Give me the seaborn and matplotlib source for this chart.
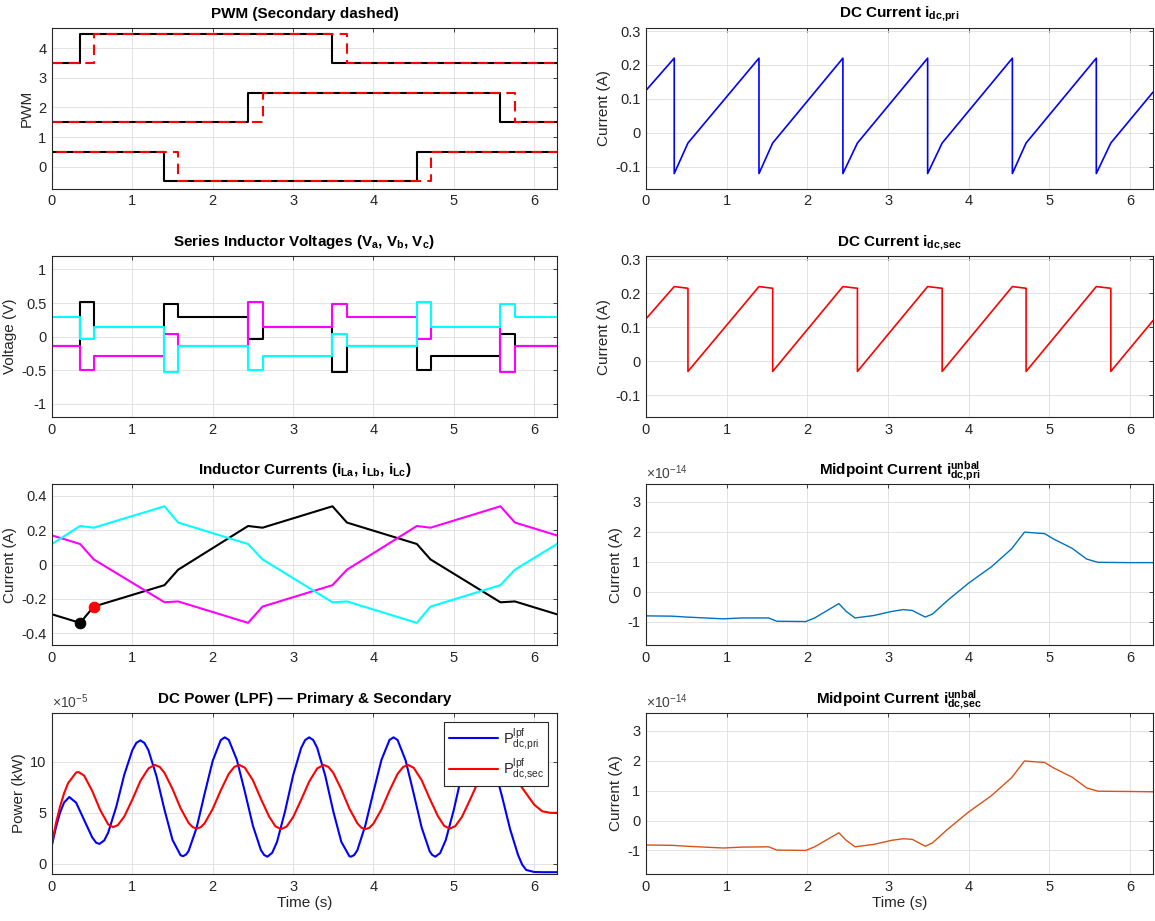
import numpy as np
import pandas as pd
import matplotlib
matplotlib.use("Agg")
import matplotlib.pyplot as plt
import matplotlib.ticker as mticker
import seaborn as sns

T_END = 6.283

# PWM switching instants (s) and levels (phase offsets 4 / 2 / 0)
pwm_a_pri_t = [0, 0.35, 3.49, T_END]
pwm_a_pri = [3.5, 4.5, 3.5, 3.5]
pwm_a_sec_t = [0, 0.52, 3.67, T_END]
pwm_a_sec = [3.5, 4.5, 3.5, 3.5]
pwm_b_pri_t = [0, 2.44, 5.58, T_END]
pwm_b_pri = [1.5, 2.5, 1.5, 1.5]
pwm_b_sec_t = [0, 2.62, 5.76, T_END]
pwm_b_sec = [1.5, 2.5, 1.5, 1.5]
pwm_c_pri_t = [0, 1.40, 4.54, T_END]
pwm_c_pri = [0.5, -0.5, 0.5, 0.5]
pwm_c_sec_t = [0, 0.006, 1.57, 4.71, T_END]
pwm_c_sec = [-0.5, 0.5, -0.5, 0.5, 0.5]

# series inductor voltages (step levels between switching instants)
v_t = [0, 0.004, 0.35, 0.52, 1.40, 1.57, 2.44, 2.62, 3.49, 3.67, 4.54, 4.71, 5.58, 5.76, T_END]
v_a = [0, -0.145, 0.51, 0.15, 0.48, 0.29, -0.04, 0.15, -0.52, -0.145, -0.49, -0.29, 0.04, -0.145, -0.145]
v_b = [0, -0.145, -0.49, -0.29, 0.04, -0.145, 0.51, 0.15, 0.48, 0.29, -0.04, 0.15, -0.52, -0.145, -0.145]
v_c = [0, 0.29, -0.04, 0.15, -0.52, -0.145, -0.49, -0.29, 0.04, -0.145, 0.52, 0.15, 0.48, 0.29, 0.29]

# inductor currents at the switching instants
i_t = [0, 0.35, 0.52, 1.40, 1.57, 2.44, 2.62, 3.49, 3.67, 4.54, 4.71, 5.58, 5.76, T_END]
i_la = [-0.29, -0.34, -0.245, -0.12, -0.03, 0.225, 0.215, 0.34, 0.245, 0.12, 0.03, -0.22, -0.215, -0.29]
i_lb = [0.17, 0.12, 0.03, -0.22, -0.215, -0.34, -0.245, -0.12, -0.03, 0.225, 0.215, 0.34, 0.245, 0.17]
i_lc = [0.12, 0.225, 0.215, 0.34, 0.245, 0.12, 0.03, -0.22, -0.215, -0.34, -0.245, -0.12, -0.03, 0.12]

# filtered DC power, in units of 1e-5 kW
p_pri_t = [0, 0.05, 0.1, 0.15, 0.215, 0.3, 0.4, 0.5, 0.55, 0.59, 0.65, 0.7, 0.8, 0.9, 1.0, 1.05,
           1.1, 1.15, 1.2, 1.3, 1.4, 1.5, 1.6, 1.63, 1.67, 1.7, 1.8, 1.9, 2.0, 2.1, 2.15, 2.2,
           2.3, 2.4, 2.5, 2.6, 2.64, 2.68, 2.74, 2.8, 2.9, 3.0, 3.1, 3.15, 3.2, 3.25, 3.3, 3.4,
           3.5, 3.6, 3.7, 3.72, 3.76, 3.8, 3.9, 4.0, 4.1, 4.2, 4.25, 4.3, 4.4, 4.5, 4.6, 4.7,
           4.73, 4.77, 4.83, 4.9, 5.0, 5.1, 5.2, 5.3, 5.4, 5.5, 5.6, 5.7, 5.8, 5.85, 5.9, 6.0,
           6.1, T_END]
p_pri = [1.85, 3.6, 5.0, 6.0, 6.55, 6.0, 4.3, 2.6, 2.07, 1.95, 2.29, 3.07, 5.6, 8.75, 11.14, 11.86,
         12.1, 11.85, 11.14, 8.6, 5.3, 2.34, 0.84, 0.75, 0.92, 1.26, 3.55, 6.9, 10.1, 12.13, 12.4, 12.15,
         10.2, 7.06, 3.74, 1.34, 0.87, 0.7, 1.08, 2.15, 5.15, 8.66, 11.35, 12.13, 12.4, 12.14, 11.37, 8.65,
         5.15, 2.16, 0.75, 0.7, 0.86, 1.34, 3.8, 7.07, 10.2, 12.15, 12.4, 12.14, 10.14, 6.9, 3.55, 1.22,
         0.88, 0.7, 1.06, 2.34, 5.3, 8.77, 11.38, 12.4, 11.65, 9.55, 6.6, 3.4, 0.85, -0.07, -0.6, -0.8,
         -0.82, -0.82]
p_sec_t = [0, 0.05, 0.1, 0.15, 0.2, 0.3, 0.33, 0.4, 0.5, 0.6, 0.7, 0.76, 0.82, 0.9, 1.0, 1.1,
           1.2, 1.28, 1.34, 1.4, 1.5, 1.6, 1.7, 1.75, 1.8, 1.85, 1.9, 2.0, 2.1, 2.2, 2.27, 2.33,
           2.4, 2.5, 2.6, 2.7, 2.78, 2.85, 2.92, 3.0, 3.1, 3.2, 3.3, 3.38, 3.44, 3.5, 3.6, 3.7,
           3.8, 3.85, 3.9, 3.95, 4.0, 4.1, 4.2, 4.3, 4.37, 4.43, 4.5, 4.6, 4.7, 4.8, 4.88, 4.95,
           5.02, 5.1, 5.2, 5.3, 5.4, 5.48, 5.6, 5.7, 5.8, 5.9, 6.0, 6.1, 6.2, T_END]
p_sec = [2.0, 4.0, 5.6, 6.9, 7.9, 8.95, 9.0, 8.65, 7.16, 5.27, 3.86, 3.6, 3.8, 4.64, 6.3, 8.12,
         9.35, 9.7, 9.5, 8.92, 7.33, 5.45, 4.01, 3.6, 3.45, 3.59, 3.98, 5.39, 7.2, 8.83, 9.51, 9.7,
         9.42, 8.19, 6.36, 4.66, 3.68, 3.4, 3.66, 4.57, 6.27, 8.06, 9.35, 9.7, 9.5, 8.92, 7.3, 5.42,
         3.97, 3.54, 3.4, 3.54, 3.94, 5.35, 7.18, 8.82, 9.5, 9.7, 9.42, 8.2, 6.39, 4.7, 3.72, 3.45,
         3.71, 4.59, 6.25, 8.0, 9.26, 9.6, 9.35, 8.8, 8.0, 6.9, 5.8, 5.15, 5.0, 5.0]

# DC link currents
idc_pri_t = [0, 0, 0.35, 0.35, 0.52, 1.40, 1.40, 1.57, 2.44, 2.44, 2.62, 3.49, 3.49, 3.67,
             4.54, 4.54, 4.71, 5.58, 5.58, 5.76, T_END]
idc_pri = [0, 0.125, 0.22, -0.12, -0.03, 0.22, -0.12, -0.03, 0.22, -0.12, -0.03, 0.22, -0.12, -0.03,
           0.22, -0.12, -0.03, 0.22, -0.12, -0.03, 0.12]
idc_sec_t = [0, 0, 0.35, 0.52, 0.52, 1.40, 1.57, 1.57, 2.44, 2.62, 2.62, 3.49, 3.67, 3.67,
             4.54, 4.71, 4.71, 5.58, 5.76, 5.76, T_END]
idc_sec = [0, 0.125, 0.22, 0.215, -0.03, 0.22, 0.215, -0.03, 0.22, 0.215, -0.03, 0.22, 0.215, -0.03,
           0.22, 0.215, -0.03, 0.22, 0.215, -0.03, 0.12]

# midpoint (unbalance) currents, in units of 1e-14 A
mid_t = [0, 0.32, 0.5, 0.96, 1.18, 1.52, 1.62, 1.98, 2.09, 2.39, 2.48, 2.59, 2.82, 3.05, 3.19,
         3.30, 3.46, 3.55, 3.73, 4.0, 4.28, 4.53, 4.69, 4.94, 5.05, 5.28, 5.46, 5.6, 6.0, T_END]
mid_pri = [-0.81, -0.82, -0.85, -0.91, -0.88, -0.88, -0.99, -1.0, -0.88, -0.40, -0.66, -0.88, -0.80,
           -0.66, -0.60, -0.63, -0.85, -0.75, -0.31, 0.29, 0.83, 1.43, 1.99, 1.94, 1.76, 1.45, 1.09,
           0.98, 0.97, 0.97]
mid_sec = [-0.82, -0.83, -0.86, -0.92, -0.89, -0.88, -0.99, -1.0, -0.88, -0.41, -0.66, -0.88, -0.80,
           -0.66, -0.61, -0.63, -0.86, -0.75, -0.31, 0.29, 0.83, 1.43, 1.99, 1.94, 1.76, 1.45, 1.09,
           0.98, 0.97, 0.96]

sns.set_theme(style="white")
plt.rcParams["font.family"] = ["Liberation Sans", "DejaVu Sans"]
plt.rcParams["mathtext.default"] = "regular"
plt.rcParams["axes.unicode_minus"] = False

EDGE = "#262626"


def style_axes(ax, ylim, yticks, title, ylabel, xlabel=None, offset=None):
    ax.set_xlim(0, T_END)
    ax.set_ylim(*ylim)
    ax.set_xticks(range(7))
    ax.set_yticks(yticks)
    ax.yaxis.set_major_formatter(mticker.FormatStrFormatter("%g"))
    ax.set_title(title, fontweight="bold", fontsize=11, pad=7, color="black")
    ax.set_ylabel(ylabel, fontsize=11, color=EDGE, labelpad=3)
    ax.set_xlabel(xlabel if xlabel else "", fontsize=11, color=EDGE, labelpad=2)
    ax.grid(True, color="#dedede", lw=0.6)
    ax.set_axisbelow(True)
    for sp in ax.spines.values():
        sp.set_visible(True)
        sp.set_color(EDGE)
        sp.set_linewidth(0.8)
    ax.tick_params(direction="in", top=True, right=True, length=3, width=0.6,
                   colors=EDGE, labelsize=10.5, pad=4)
    if offset:
        ax.text(0.0, 1.012, offset, transform=ax.transAxes, ha="left", va="bottom",
                fontsize=10, color="#404040")


fig = plt.figure(figsize=(11.55, 9.21), dpi=100)
lefts = [0.045, 0.5593]
w_l, w_r = 0.4372, 0.4390
bottoms = [0.795, 0.547, 0.2995, 0.051]
h = 0.175

ax_pwm = fig.add_axes([lefts[0], bottoms[0], w_l, h])
ax_v = fig.add_axes([lefts[0], bottoms[1], w_l, h])
ax_i = fig.add_axes([lefts[0], bottoms[2], w_l, h])
ax_p = fig.add_axes([lefts[0], bottoms[3], w_l, h])
ax_dp = fig.add_axes([lefts[1], bottoms[0], w_r, h])
ax_ds = fig.add_axes([lefts[1], bottoms[1], w_r, h])
ax_mp = fig.add_axes([lefts[1], bottoms[2], w_r, h])
ax_ms = fig.add_axes([lefts[1], bottoms[3], w_r, h])

common = dict(estimator=None, sort=False)
dash = (0, (5, 3))

# PWM
for t, y in [(pwm_a_pri_t, pwm_a_pri), (pwm_b_pri_t, pwm_b_pri), (pwm_c_pri_t, pwm_c_pri)]:
    sns.lineplot(x=t, y=y, ax=ax_pwm, color="black", lw=1.5, drawstyle="steps-post", **common)
for t, y in [(pwm_a_sec_t, pwm_a_sec), (pwm_b_sec_t, pwm_b_sec), (pwm_c_sec_t, pwm_c_sec)]:
    sns.lineplot(x=t, y=y, ax=ax_pwm, color="red", lw=1.5, linestyle=dash,
                 drawstyle="steps-post", **common)
style_axes(ax_pwm, (-0.75, 4.7), [0, 1, 2, 3, 4], "PWM (Secondary dashed)", "PWM")

# voltages
sns.lineplot(x=v_t, y=v_a, ax=ax_v, color="black", lw=1.5, drawstyle="steps-post", **common)
sns.lineplot(x=v_t, y=v_b, ax=ax_v, color="#ff00ff", lw=1.5, drawstyle="steps-post", **common)
sns.lineplot(x=v_t, y=v_c, ax=ax_v, color="#00ffff", lw=1.5, drawstyle="steps-post", **common)
style_axes(ax_v, (-1.2, 1.2), [-1, -0.5, 0, 0.5, 1],
           "Series Inductor Voltages (V$_a$, V$_b$, V$_c$)", "Voltage (V)")

# inductor currents
sns.lineplot(x=i_t, y=i_la, ax=ax_i, color="black", lw=1.5, **common)
sns.lineplot(x=i_t, y=i_lb, ax=ax_i, color="#ff00ff", lw=1.5, **common)
sns.lineplot(x=i_t, y=i_lc, ax=ax_i, color="#00ffff", lw=1.5, **common)
sns.scatterplot(x=[i_t[1]], y=[i_la[1]], ax=ax_i, color="black", s=60, edgecolor="black", zorder=5)
sns.scatterplot(x=[i_t[2]], y=[i_la[2]], ax=ax_i, color="red", s=60, edgecolor="red", zorder=5)
style_axes(ax_i, (-0.47, 0.47), [-0.4, -0.2, 0, 0.2, 0.4],
           "Inductor Currents (i$_{La}$, i$_{Lb}$, i$_{Lc}$)", "Current (A)")

# DC power
sns.lineplot(x=p_pri_t, y=p_pri, ax=ax_p, color="#0000ff", lw=1.5,
             label="P$^{lpf}_{dc{,}pri}$", **common)
sns.lineplot(x=p_sec_t, y=p_sec, ax=ax_p, color="#ff0000", lw=1.5,
             label="P$^{lpf}_{dc{,}sec}$", **common)
style_axes(ax_p, (-1.0, 14.8), [0, 5, 10], "DC Power (LPF) \u2014 Primary & Secondary",
           "Power (kW)", xlabel="Time (s)", offset=r"$\times$10$^{-5}$")
leg = ax_p.legend(loc="upper right", frameon=True, fancybox=False, framealpha=1,
                  edgecolor=EDGE, handlelength=3.4, fontsize=10.5, borderpad=0.3,
                  labelspacing=0.3, borderaxespad=0.6, handletextpad=0.3)
leg.get_frame().set_linewidth(0.8)

# DC currents
sns.lineplot(x=idc_pri_t, y=idc_pri, ax=ax_dp, color="#0000ff", lw=1.2, **common)
style_axes(ax_dp, (-0.165, 0.31), [-0.1, 0, 0.1, 0.2, 0.3], "DC Current i$_{dc{,}pri}$", "Current (A)")
sns.lineplot(x=idc_sec_t, y=idc_sec, ax=ax_ds, color="#ff0000", lw=1.2, **common)
style_axes(ax_ds, (-0.165, 0.31), [-0.1, 0, 0.1, 0.2, 0.3], "DC Current i$_{dc{,}sec}$", "Current (A)")

# midpoint currents
sns.lineplot(x=mid_t, y=mid_pri, ax=ax_mp, color="#0072bd", lw=1.0, **common)
style_axes(ax_mp, (-1.79, 3.6), [-1, 0, 1, 2, 3], "Midpoint Current i$^{unbal}_{dc{,}pri}$",
           "Current (A)", offset=r"$\times$10$^{-14}$")
sns.lineplot(x=mid_t, y=mid_sec, ax=ax_ms, color="#d95319", lw=1.0, **common)
style_axes(ax_ms, (-1.79, 3.6), [-1, 0, 1, 2, 3], "Midpoint Current i$^{unbal}_{dc{,}sec}$",
           "Current (A)", xlabel="Time (s)", offset=r"$\times$10$^{-14}$")

fig.savefig("out.png", dpi=100)
plt.close(fig)
